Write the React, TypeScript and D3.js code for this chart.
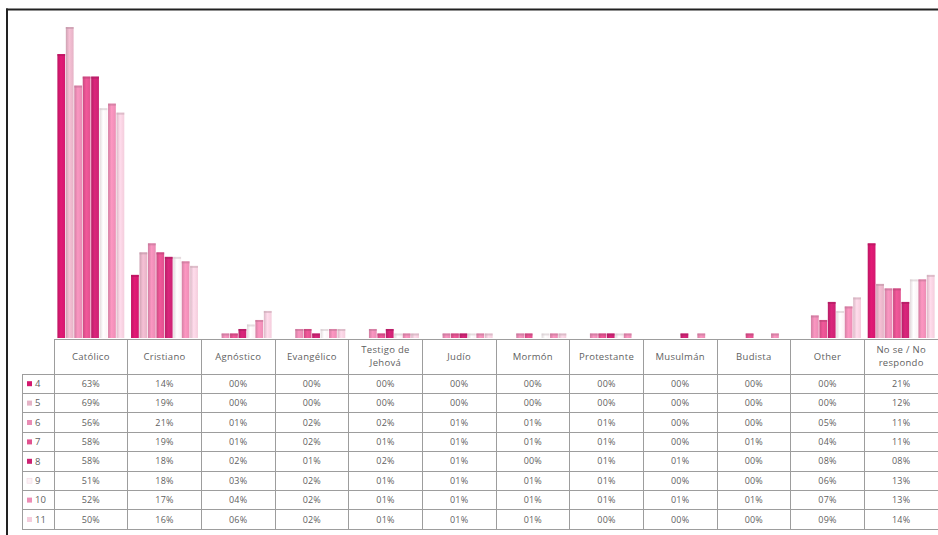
import React from 'react';
import * as d3 from 'd3';

const categories = [
  'Católico', 'Cristiano', 'Agnóstico', 'Evangélico', 'Testigo de\nJehová', 'Judío',
  'Mormón', 'Protestante', 'Musulmán', 'Budista', 'Other', 'No se / No\nrespondo',
];
const seriesNames = ['4', '5', '6', '7', '8', '9', '10', '11'];
const seriesColors = ['#d3186e', '#e5b3c6', '#e98cb4', '#e1528f', '#cc2373', '#fcf1f5', '#ec8db5', '#f4cddc'];

const s4 = [63, 14, 0, 0, 0, 0, 0, 0, 0, 0, 0, 21];
const s5 = [69, 19, 0, 0, 0, 0, 0, 0, 0, 0, 0, 12];
const s6 = [56, 21, 1, 2, 2, 1, 1, 1, 0, 0, 5, 11];
const s7 = [58, 19, 1, 2, 1, 1, 1, 1, 0, 1, 4, 11];
const s8 = [58, 18, 2, 1, 2, 1, 0, 1, 1, 0, 8, 8];
const s9 = [51, 18, 3, 2, 1, 1, 1, 1, 0, 0, 6, 13];
const s10 = [52, 17, 4, 2, 1, 1, 1, 1, 1, 1, 7, 13];
const s11 = [50, 16, 6, 2, 1, 1, 1, 0, 0, 0, 9, 14];
const seriesValues = [s4, s5, s6, s7, s8, s9, s10, s11];

const W = 938;
const H = 535;
const tableLeft = 54;
const tableRight = 938;
const labelLeft = 22;
const baseY = 338;
const headerTop = 339;
const headerBottom = 374;
const rowH = 19.4;
const FONT = '"Open Sans", "DejaVu Sans", sans-serif';

function pct(v: number) {
  return (v < 10 ? '0' : '') + v + '%';
}

export default function App() {
  const x = d3.scaleBand<string>().domain(categories).range([tableLeft, tableRight]).padding(0);
  const xi = d3
    .scaleBand<string>()
    .domain(seriesNames)
    .range([0, x.bandwidth()])
    .paddingInner(0.08)
    .paddingOuter(0.4);
  const y = d3.scaleLinear().domain([0, 70]).range([baseY, 22.5]);

  const rowY = (i: number) => headerBottom + i * rowH;
  const tableBottom = rowY(seriesNames.length);

  return (
    <svg
      width={W}
      height={H}
      style={{ position: 'absolute', left: 0, top: 0, background: '#fff' }}
      fontFamily={FONT}
    >
      <defs>
        {seriesColors.map((c, i) => {
          const dark = d3.color(c)!.darker(0.3).formatHex();
          const light = d3.color(c)!.brighter(0.2).formatHex();
          return (
            <linearGradient key={i} id={`g${i}`} x1="0" x2="1" y1="0" y2="0">
              <stop offset="0" stopColor={dark} />
              <stop offset="0.45" stopColor={light} />
              <stop offset="1" stopColor={c} />
            </linearGradient>
          );
        })}
      </defs>
      <rect x={0} y={0} width={W} height={H} fill="#fff" />

      {/* bars */}
      {categories.map((cat, ci) => (
        <g key={cat}>
          {seriesNames.map((s, si) => {
            const v = seriesValues[si][ci];
            if (v <= 0) return null;
            const bx = (x(cat) as number) + (xi(s) as number);
            const by = y(v);
            const bh = baseY - by;
            const top = d3.color(seriesColors[si])!.darker(0.5).formatHex();
            return (
              <g key={s}>
                <rect x={bx} y={by} width={xi.bandwidth()} height={bh} fill={`url(#g${si})`} />
                <rect x={bx} y={by} width={xi.bandwidth()} height={Math.min(2, bh)} fill={top} opacity={0.6} />
              </g>
            );
          })}
        </g>
      ))}

      {/* table grid */}
      <g stroke="#9d9d9d" strokeWidth={1} fill="none" shapeRendering="crispEdges">
        <line x1={tableLeft} x2={tableRight} y1={headerTop} y2={headerTop} />
        {d3.range(seriesNames.length + 1).map((i) => (
          <line key={i} x1={labelLeft} x2={tableRight} y1={rowY(i)} y2={rowY(i)} />
        ))}
        <line x1={labelLeft} x2={labelLeft} y1={headerBottom} y2={tableBottom} />
        {categories.map((c) => (
          <line key={c} x1={x(c)} x2={x(c)} y1={headerTop} y2={tableBottom} />
        ))}
      </g>

      {/* header labels */}
      <g fill="#5f5f5f" fontSize={9.5} textAnchor="middle" letterSpacing={0.3}>
        {categories.map((c) => {
          const lines = c.split('\n');
          const cx = (x(c) as number) + x.bandwidth() / 2;
          const cy = (headerTop + headerBottom) / 2;
          return (
            <text key={c} x={cx} y={cy - ((lines.length - 1) * 13) / 2}>
              {lines.map((l, li) => (
                <tspan key={li} x={cx} dy={li === 0 ? '0.35em' : 13}>
                  {l}
                </tspan>
              ))}
            </text>
          );
        })}
      </g>

      {/* rows */}
      {seriesNames.map((s, si) => {
        const cy = rowY(si) + rowH / 2;
        return (
          <g key={s}>
            <rect
              x={27}
              y={cy - 2.5}
              width={5}
              height={5}
              fill={seriesColors[si]}
              stroke={si === 5 ? '#eed3de' : 'none'}
              strokeWidth={0.5}
            />
            <text x={35} y={cy} dy="0.35em" fill="#5f5f5f" fontSize={9.5}>
              {s}
            </text>
            {categories.map((c, ci) => (
              <text
                key={c}
                x={(x(c) as number) + x.bandwidth() / 2}
                y={cy}
                dy="0.35em"
                textAnchor="middle"
                fill="#5f5f5f"
                fontSize={9}
                letterSpacing={0.2}
              >
                {pct(seriesValues[si][ci])}
              </text>
            ))}
          </g>
        );
      })}

      {/* outer frame */}
      <g stroke="#222" strokeWidth={2} fill="none">
        <line x1={6} x2={W} y1={9.5} y2={9.5} />
        <line x1={7} x2={7} y1={8.5} y2={H} />
      </g>
    </svg>
  );
}
